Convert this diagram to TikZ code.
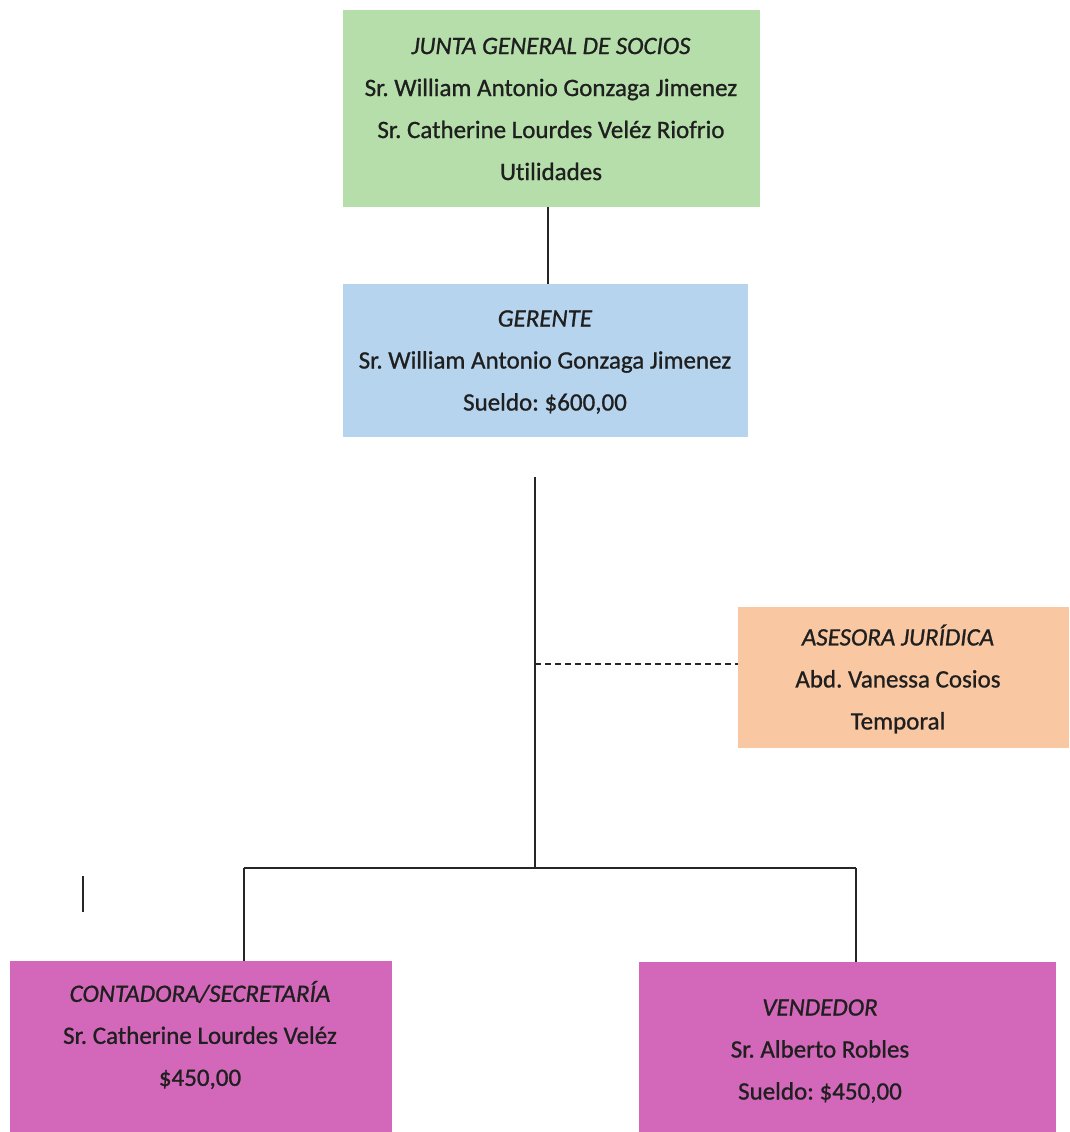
\documentclass[tikz,border=0pt]{standalone}
\usepackage{fontspec}
\setmainfont{Carlito}[FakeBold=0.9,Ligatures=NoCommon]
\frenchspacing
\begin{document}
\begin{tikzpicture}[x=1pt,y=-1pt,
  box/.style={draw=none,inner sep=0pt,outer sep=0pt,anchor=north west},
  label/.style={inner sep=0pt,align=center,font=\fontsize{25}{42}\selectfont,text=black!88},
  link/.style={draw=black!85,line width=1.6pt},
  dotlink/.style={draw=black!85,line width=1.4pt,dash pattern=on 6pt off 4pt}]
\useasboundingbox (0,0) rectangle (1069,1132);
\fill[white] (0,0) rectangle (1069,1132);
\definecolor{juntaGreen}{RGB}{181,222,170}
\definecolor{gerenteBlue}{RGB}{182,212,238}
\definecolor{asesorOrange}{RGB}{249,200,162}
\definecolor{staffPink}{RGB}{211,104,186}

% boxes
\node[box,fill=juntaGreen,minimum width=417pt,minimum height=197pt] (junta) at (343,10) {};
\node[box,fill=gerenteBlue,minimum width=405pt,minimum height=153pt] (gerente) at (343,284) {};
\node[box,fill=asesorOrange,minimum width=331pt,minimum height=141pt] (asesora) at (738,607) {};
\node[box,fill=staffPink,minimum width=382pt,minimum height=171pt] (contadora) at (10,961) {};
\node[box,fill=staffPink,minimum width=417pt,minimum height=170pt] (vendedor) at (639,962) {};

% texts
\node[label] (tjunta) at (551,109) {\textit{JUNTA GENERAL DE SOCIOS}\\Sr. William Antonio Gonzaga Jimenez\\Sr. Catherine Lourdes Veléz Riofrio\\Utilidades};
\node[label] (tgerente) at (545,362) {\textit{GERENTE}\\Sr. William Antonio Gonzaga Jimenez\\Sueldo: \$600,00};
\node[label] (tasesora) at (898,679) {\textit{ASESORA JURÍDICA}\\Abd. Vanessa Cosios\\Temporal};
\node[label] (tcontadora) at (200,1035) {\textit{CONTADORA/SECRETARÍA}\\Sr. Catherine Lourdes Veléz\\\$450,00};
\node[label] (tvendedor) at (820,1051) {\textit{VENDEDOR}\\Sr. Alberto Robles\\Sueldo: \$450,00};

% connector points
\coordinate (trunkTop) at (535,477);
\coordinate (trunkMid) at (535,664);
\coordinate (trunkBot) at (535,868);
\coordinate (leftBend) at (244,868);
\coordinate (rightBend) at (856,868);
\coordinate (strayTop) at (83,876);
\coordinate (strayBot) at (83,912);

% connectors
\draw[link] (junta.south -| 548,0) -- (gerente.north -| 548,0);
\draw[link] (trunkTop) -- (trunkBot);
\draw[dotlink] (trunkMid) -- (asesora.west |- trunkMid);
\draw[link] (leftBend) -- (rightBend);
\draw[link] (leftBend) -- (contadora.north -| leftBend);
\draw[link] (rightBend) -- (vendedor.north -| rightBend);
\draw[link] (strayTop) -- (strayBot);
\end{tikzpicture}
\end{document}
